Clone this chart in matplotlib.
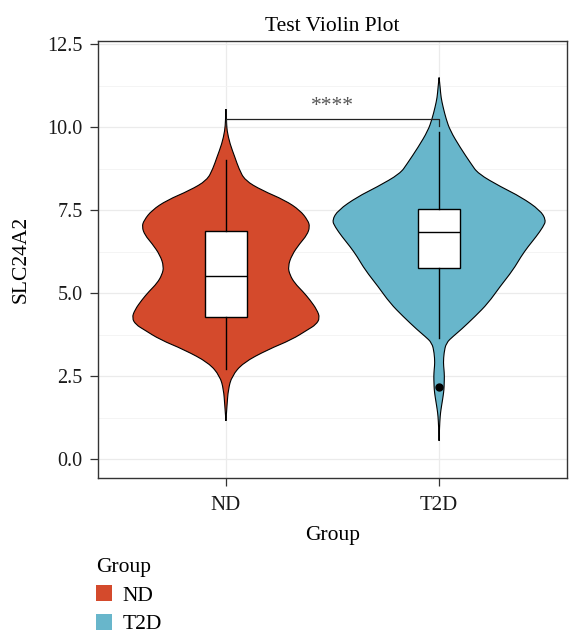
import numpy as np
import matplotlib.pyplot as plt
from matplotlib.path import Path
from matplotlib.patches import PathPatch, Patch

plt.rcParams['font.family'] = ['Liberation Serif', 'DejaVu Serif']

# groups
groups = ["ND", "T2D"]
colors = ["#D44A2C", "#68B6CB"]

# violin profiles: y level and half width of the density outline
nd_y = [10.55, 10.2, 9.9, 9.5, 9.1, 8.75, 8.4, 8.1, 7.8, 7.5, 7.2, 7.0, 6.75, 6.5,
        6.15, 5.8, 5.55, 5.3, 5.05, 4.8, 4.5, 4.25, 4.05, 3.9, 3.6, 3.3, 2.9, 2.5,
        2.1, 1.6, 1.15]
nd_w = [0, 0.002, 0.005, 0.019, 0.042, 0.061, 0.089, 0.169, 0.277, 0.347, 0.384,
        0.394, 0.380, 0.347, 0.309, 0.291, 0.300, 0.323, 0.361, 0.394, 0.427, 0.441,
        0.422, 0.384, 0.309, 0.197, 0.080, 0.028, 0.011, 0.005, 0]
t2d_y = [11.5, 11.2, 10.9, 10.6, 10.25, 9.9, 9.4, 8.9, 8.6, 8.2, 7.9, 7.5, 7.2, 7.0,
         6.7, 6.4, 6.1, 5.7, 5.2, 4.7, 4.3, 3.9, 3.7, 3.5, 3.2, 2.9, 2.7, 2.5, 2.3,
         2.1, 1.9, 1.7, 1.5, 1.3, 0.95, 0.55]
t2d_w = [0, 0.005, 0.009, 0.019, 0.033, 0.052, 0.098, 0.150, 0.183, 0.291, 0.384,
         0.474, 0.502, 0.488, 0.455, 0.417, 0.384, 0.347, 0.286, 0.230, 0.169, 0.103,
         0.066, 0.033, 0.023, 0.020, 0.023, 0.025, 0.024, 0.023, 0.019, 0.014, 0.009,
         0.005, 0.002, 0]

# boxplot summaries
q1 = [4.29, 5.75]
med = [5.53, 6.85]
q3 = [6.87, 7.55]
whislo = [2.70, 3.65]
whishi = [9.00, 9.85]
fliers = [[], [2.17]]

# comparison bracket
bracket_y = 10.25
signif = "****"


def smooth_outline(xs, ys):
    # quadratic b-spline through the outline points (closed)
    pts = np.column_stack([xs, ys])
    n = len(pts)
    mids = (pts + np.roll(pts, -1, axis=0)) / 2
    verts = [mids[-1]]
    codes = [Path.MOVETO]
    for i in range(n):
        verts += [pts[i], mids[i]]
        codes += [Path.CURVE3, Path.CURVE3]
    verts.append(mids[-1])
    codes.append(Path.CLOSEPOLY)
    return Path(verts, codes)


fig = plt.figure(figsize=(5.7, 6.37), dpi=100)
ax = fig.add_axes([98 / 570, 1 - 478 / 637, 469 / 570, 437 / 637])

# grid
ax.set_yticks(np.arange(0, 12.6, 2.5))
ax.set_yticks(np.arange(1.25, 12.6, 2.5), minor=True)
ax.grid(True, which='major', color='#EBEBEB', lw=0.9, zorder=0)
ax.grid(True, which='minor', axis='y', color='#F3F3F3', lw=0.6, zorder=0)
ax.set_axisbelow(True)

profiles = [(nd_y, nd_w), (t2d_y, t2d_w)]
for i, (ys, ws) in enumerate(profiles):
    pos = i + 1
    ys = np.array(ys)
    ws = np.array(ws)
    xs = np.concatenate([pos + ws, (pos - ws)[::-1]])
    yy = np.concatenate([ys, ys[::-1]])
    ax.add_patch(PathPatch(smooth_outline(xs, yy), facecolor=colors[i],
                           edgecolor='black', lw=0.8, zorder=2))

stats = []
for i in range(2):
    stats.append(dict(q1=q1[i], med=med[i], q3=q3[i], whislo=whislo[i],
                      whishi=whishi[i], fliers=fliers[i]))
ax.bxp(stats, positions=[1, 2], widths=0.2, patch_artist=True, showcaps=False,
       boxprops=dict(facecolor='white', edgecolor='black', lw=1.0),
       medianprops=dict(color='black', lw=1.0),
       whiskerprops=dict(color='black', lw=1.0),
       flierprops=dict(marker='o', markerfacecolor='black', markeredgecolor='black',
                       markersize=5),
       zorder=3)

# significance bracket
ax.plot([1, 1, 2, 2], [bracket_y - 0.2, bracket_y, bracket_y, bracket_y - 0.2],
        color='#222222', lw=0.9, zorder=4)
ax.text(1.5, bracket_y + 0.1, signif, ha='center', va='bottom', fontsize=15.5,
        color='#555555')

ax.set_xlim(0.4, 2.6)
ax.set_ylim(-0.57, 12.6)
ax.set_xticks([1, 2])
ax.set_xticklabels(groups)
ax.tick_params(axis='both', labelsize=14.5, color='#333333', length=6, width=0.9,
               labelcolor='#1a1a1a')
ax.tick_params(axis='y', pad=5)
ax.tick_params(axis='x', pad=7, labelsize=15)
ax.tick_params(axis='y', which='minor', length=0)
for s in ax.spines.values():
    s.set_color('#333333')
    s.set_linewidth(1.0)

ax.set_title("Test Violin Plot", fontsize=15.5, pad=7)
ax.set_xlabel("Group", fontsize=15.5, labelpad=8)
ax.set_ylabel("SLC24A2", fontsize=15.5, labelpad=12)

handles = [Patch(facecolor=c, edgecolor='none') for c in colors]
leg = fig.legend(handles, groups, title="Group", loc='upper left',
                 bbox_to_anchor=(96 / 570, 1 - 558 / 637), frameon=False,
                 fontsize=15.5, title_fontsize=15.5, handlelength=0.75,
                 handleheight=0.75, handletextpad=0.5, labelspacing=0.38,
                 borderpad=0, borderaxespad=0, alignment='left')

fig.savefig("out.png", dpi=100)
